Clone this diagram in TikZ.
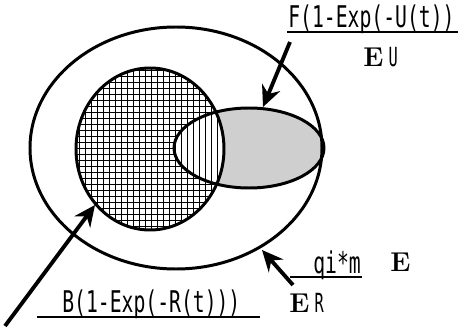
\documentclass[tikz,border=0pt]{standalone}
\usepackage{fontspec}
\usetikzlibrary{arrows.meta, calc}
\newfontfamily\labfont[FakeStretch=0.66]{DejaVu Sans Mono}
\newfontfamily\smallfont[FakeStretch=0.58]{DejaVu Sans Mono}
\tikzset{
  rim/.style={draw, line width=1.7pt},
  hat/.style={line width=0.9pt},
  ptr/.style={-{Stealth[length=12pt, width=11pt, inset=4pt]}, line width=2.2pt},
  uline/.style={line width=1.1pt},
  flab/.style={font=\labfont\fontsize{17}{20}\selectfont, inner sep=0pt, anchor=base west},
  elab/.style={inner sep=0pt, anchor=base west}
}
\newcommand{\expsym}[1]{{\fontsize{15.5}{18}\selectfont\bfseries E}\hspace{3pt}{\smallfont\fontsize{15}{18}\selectfont #1}}

\begin{document}
\begin{tikzpicture}[x=0.02cm, y=-0.02cm]
		\useasboundingbox (0,0) rectangle (461,328);
		% sets
		\fill[gray!38] (249,148) ellipse [x radius=75, y radius=40];
		\begin{scope}
			\clip (150,149) ellipse [x radius=74, y radius=81];
			\fill[white] (70,60) rectangle (230,240);
			\foreach \y in {70.5,76.5,...,234} \draw[hat] (70,\y) -- (230,\y);
			\fill[white] (249,148) ellipse [x radius=75, y radius=40];
			\foreach \x in {79.5,85.5,...,228} \draw[hat] (\x,60) -- (\x,240);
		\end{scope}
		\draw[rim] (176,148) ellipse [x radius=146, y radius=121];
		\draw[rim] (150,149) ellipse [x radius=74, y radius=81];
		\draw[rim] (249,148) ellipse [x radius=75, y radius=40];
		% labels
		\node[flab] (labF) at (288,28) {F(1-Exp(-U(t))};
		\node[elab] (labEU) at (363,67) {\expsym{U}};
		\node[flab] (labQ) at (313,274) {qi*m};
		\node[elab] (labE) at (390,272) {\expsym{}};
		\node[flab] (labB) at (62,313) {B(1-Exp(-R(t)))};
		\node[elab] (labER) at (289,313) {\expsym{R}};
		\draw[uline] (287,32) -- (458,32);
		\draw[uline] (290,277) -- (362,277);
		\draw[uline] (37,317) -- (260,317);
		% pointers
		\coordinate (tailU) at (290,42);
		\coordinate (tipU) at (263,107);
		\coordinate (tailR) at (5,326);
		\coordinate (tipR) at (95,205);
		\coordinate (tailE) at (293,285);
		\coordinate (tipE) at (262,250);
		\draw[ptr] (tailU) -- (tipU);
		\draw[ptr] (tailR) -- (tipR);
		\draw[ptr] (tailE) -- (tipE);
	\end{tikzpicture}
\end{document}
